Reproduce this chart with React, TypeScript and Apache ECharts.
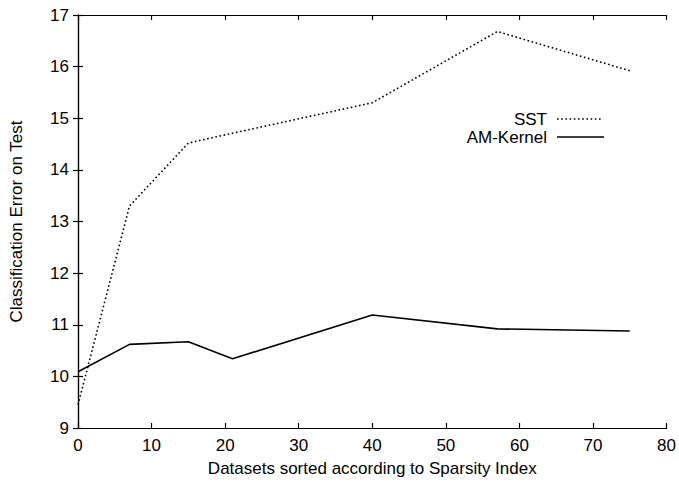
import React, { useEffect, useRef } from "react";
import * as echarts from "echarts";

const xValues = [0, 7, 15, 21, 40, 57, 75];
const sstValues = [9.45, 13.3, 14.52, 14.71, 15.3, 16.68, 15.92];
const amKernelValues = [10.09, 10.62, 10.67, 10.34, 11.19, 10.92, 10.88];
const seriesNames = ["SST", "AM-Kernel"];
const xTitle = "Datasets sorted according to Sparsity Index";
const yTitle = "Classification Error on Test";

const FONT = "'Liberation Sans', Arial, Helvetica, sans-serif";
const FS = 17;

export default function App() {
  const ref = useRef<HTMLDivElement>(null);
  useEffect(() => {
    if (!ref.current) return;
    const chart = echarts.init(ref.current, undefined, { renderer: "svg" });
    const axisCommon = {
      axisLine: { show: true, lineStyle: { color: "#000", width: 1.2 } },
      axisTick: { show: true, inside: true, length: 5, lineStyle: { color: "#000", width: 1.2 } },
      splitLine: { show: false },
    };
    const labelStyle = { color: "#000", fontSize: FS, fontFamily: FONT };
    chart.setOption({
      animation: false,
      backgroundColor: "#fff",
      grid: { left: 77, right: 12, top: 15, bottom: 55, containLabel: false },
      xAxis: [
        {
          type: "value", min: 0, max: 80, interval: 10, position: "bottom",
          ...axisCommon,
          axisLabel: { ...labelStyle, margin: 9 },
          name: xTitle, nameLocation: "middle", nameGap: 32,
          nameTextStyle: { ...labelStyle },
        },
        {
          type: "value", min: 0, max: 80, interval: 10, position: "top",
          ...axisCommon, axisLabel: { show: false },
        },
      ],
      yAxis: [
        {
          type: "value", min: 9, max: 17, interval: 1, position: "left",
          ...axisCommon,
          axisLabel: { ...labelStyle, margin: 9 },
          name: yTitle, nameLocation: "middle", nameGap: 53, nameRotate: 90,
          nameTextStyle: { ...labelStyle },
        },
        {
          type: "value", min: 9, max: 17, interval: 1, position: "right",
          ...axisCommon, axisLabel: { show: false },
        },
      ],
      series: [
        {
          name: seriesNames[0], type: "line", symbol: "none",
          data: xValues.map((x, i) => [x, sstValues[i]]),
          lineStyle: { color: "#000", width: 1.6, type: [1.6, 2.6] },
        },
        {
          name: seriesNames[1], type: "line", symbol: "none",
          data: xValues.map((x, i) => [x, amKernelValues[i]]),
          lineStyle: { color: "#000", width: 1.6 },
        },
      ],
      graphic: [
        { type: "text", x: 547, y: 119, style: { text: seriesNames[0], fill: "#000", font: `${FS}px ${FONT}`, textAlign: "right", textVerticalAlign: "middle" } },
        { type: "line", shape: { x1: 557, y1: 119, x2: 603, y2: 119 }, style: { stroke: "#000", lineWidth: 1.6, lineDash: [1.6, 2.6] } },
        { type: "text", x: 547, y: 137, style: { text: seriesNames[1], fill: "#000", font: `${FS}px ${FONT}`, textAlign: "right", textVerticalAlign: "middle" } },
        { type: "line", shape: { x1: 557, y1: 137, x2: 604, y2: 137 }, style: { stroke: "#000", lineWidth: 1.6 } },
      ],
    });
    return () => chart.dispose();
  }, []);
  return <div ref={ref} style={{ width: 679, height: 483, position: "absolute", left: 0, top: 0 }} />;
}
